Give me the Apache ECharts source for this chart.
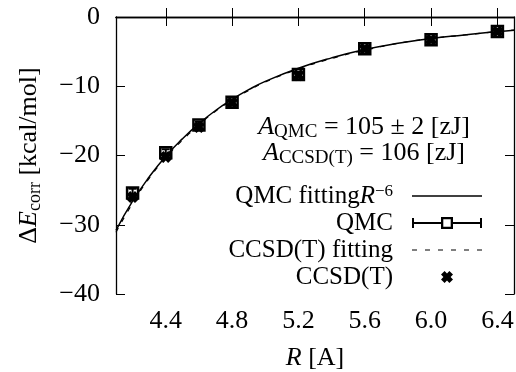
<!DOCTYPE html>
<html><head><meta charset="utf-8">
<script src="https://cdn.jsdelivr.net/npm/echarts@6/dist/echarts.min.js"></script>
<style>html,body{margin:0;padding:0;background:#fff}#c{width:516px;height:372px}</style>
</head><body><div id="c"></div>
<script>
// ---- data ----
const rPoints = [4.2, 4.4, 4.6, 4.8, 5.2, 5.6, 6.0, 6.4];
const qmcEnergy = [-25.4, -19.6, -15.6, -12.3, -8.3, -4.6, -3.3, -2.1];
const qmcError = [0.6, 0.5, 0.5, 0.4, 0.4, 0.3, 0.3, 0.2];
const ccsdEnergy = [-26.0, -20.2, -15.9, -12.4, -8.4, -4.6, -3.3, -2.1];
const rFit = [4.1, 4.2, 4.3, 4.4, 4.5, 4.6, 4.7, 4.8, 4.9, 5.0, 5.2, 5.4, 5.6, 5.8, 6.0, 6.2, 6.4, 6.5];
const qmcFit = [-30.8, -26.6, -23.1, -20.1, -17.6, -15.4, -13.5, -11.9, -10.5, -9.3, -7.4, -5.9, -4.7, -3.8, -3.1, -2.6, -2.1, -1.9];
const ccsdFit = [-31.1, -26.9, -23.3, -20.3, -17.8, -15.6, -13.6, -12.0, -10.6, -9.4, -7.5, -6.0, -4.8, -3.8, -3.1, -2.6, -2.1, -1.9];
const xTicks = [4.4, 4.8, 5.2, 5.6, 6.0, 6.4];
const yTicks = [-40, -30, -20, -10, 0];
const seriesNames = ['QMC fitting', 'QMC', 'CCSD(T) fitting', 'CCSD(T)'];

const FONT = 'Liberation Serif';
const FS = 26;
const chart = echarts.init(document.getElementById('c'));

const zipXY = (xs, ys) => xs.map((x, i) => [x, ys[i]]);
const solidIcon = 'path://M0 0H70V1.4H0Z';
const dashIcon = 'path://M0 0H5V1.2H0Z M13 0H18V1.2H13Z M26 0H31V1.2H26Z M39 0H44V1.2H39Z M52 0H57V1.2H52Z M65 0H70V1.2H65Z';
const qmcIcon = 'path://M0 1H2V11H0Z M0 5H29V7H0Z M29 0H41V2.3H29Z M29 9.7H41V12H29Z M29 0H31.3V12H29Z M38.7 0H41V12H38.7Z M41 5H70V7H41Z M68 1H70V11H68Z';
const crossSym = 'path://M0 3L3 0L5 2L7 0L10 3L8 5L10 7L7 10L5 8L3 10L0 7L2 5Z';

const axisCommon = {
  axisLine: { lineStyle: { color: '#000', width: 1.3 } },
  splitLine: { show: false }
};

chart.setOption({
  animation: false,
  backgroundColor: '#fff',
  grid: { left: 116, right: 2, top: 17, bottom: 78, containLabel: false, outerBoundsMode: 'none' },
  xAxis: [
    Object.assign({
      type: 'value', min: 4.1, max: 6.5, position: 'bottom',
      axisTick: { inside: true, length: 9, customValues: xTicks, lineStyle: { color: '#000', width: 1 } },
      axisLabel: { customValues: xTicks, margin: 14, fontFamily: FONT, fontSize: FS, color: '#000',
        formatter: v => Number(v).toFixed(1) },
      name: '{i|R}{n| [A]}', nameLocation: 'middle', nameGap: 51,
      nameTextStyle: { rich: {
        i: { fontFamily: FONT, fontSize: FS, fontStyle: 'italic', color: '#000' },
        n: { fontFamily: FONT, fontSize: FS, color: '#000' } } }
    }, axisCommon),
    Object.assign({
      type: 'value', min: 4.1, max: 6.5, position: 'top',
      axisTick: { inside: true, length: 9, customValues: xTicks, lineStyle: { color: '#000', width: 1 } },
      axisLabel: { show: false }
    }, axisCommon)
  ],
  yAxis: [
    Object.assign({
      type: 'value', min: yTicks[0], max: yTicks[yTicks.length - 1], interval: 10, position: 'left',
      axisTick: { inside: true, length: 9, lineStyle: { color: '#000', width: 1 } },
      axisLabel: { margin: 16, fontFamily: FONT, fontSize: FS, color: '#000',
        formatter: v => String(v).replace('-', '\u2212') },
      name: '{d|\u0394}{e|E}{s|corr}{n| [kcal/mol]}', nameLocation: 'middle', nameGap: 72, nameRotate: 90,
      nameTextStyle: { rich: {
        d: { fontFamily: FONT, fontSize: FS, color: '#000', lineHeight: 30 },
        e: { fontFamily: FONT, fontSize: FS, fontStyle: 'italic', color: '#000', lineHeight: 30 },
        s: { fontFamily: FONT, fontSize: 18, color: '#000', verticalAlign: 'bottom', lineHeight: 30 },
        n: { fontFamily: FONT, fontSize: FS, color: '#000', lineHeight: 30 } } }
    }, axisCommon),
    Object.assign({
      type: 'value', min: yTicks[0], max: yTicks[yTicks.length - 1], interval: 10, position: 'right',
      axisTick: { inside: true, length: 9, lineStyle: { color: '#000', width: 1 } },
      axisLabel: { show: false }
    }, axisCommon)
  ],
  legend: {
    orient: 'vertical', align: 'right', right: 34, top: 183, padding: 0,
    itemWidth: 70, itemHeight: 12, itemGap: 1, selectedMode: false,
    symbolKeepAspect: true,
    textStyle: { fontFamily: FONT, fontSize: 25, color: '#000', lineHeight: 26, padding: [0, 14, 0, 0],
      rich: {
        n: { fontFamily: FONT, fontSize: 25, color: '#000', lineHeight: 26 },
        i: { fontFamily: FONT, fontSize: 25, fontStyle: 'italic', color: '#000', lineHeight: 26 },
        s: { fontFamily: FONT, fontSize: 17, color: '#000', verticalAlign: 'top', lineHeight: 26 }
      } },
    formatter: name => name === seriesNames[0] ? '{n|QMC fitting}{i|R}{s|\u22126}' : name,
    data: [
      { name: seriesNames[0], icon: solidIcon, itemStyle: { color: '#000', borderWidth: 0 } },
      { name: seriesNames[1], icon: qmcIcon, itemStyle: { color: '#000', borderWidth: 0 } },
      { name: seriesNames[2], icon: dashIcon, itemStyle: { color: '#000', borderWidth: 0 } },
      { name: seriesNames[3], icon: crossSym, itemStyle: { color: '#000', borderWidth: 0 } }
    ]
  },
  graphic: [
    { type: 'text', x: 364, y: 127, style: {
      text: '{a|A}{s|QMC}{n| = 105 \u00b1 2 [zJ]}', align: 'center', verticalAlign: 'middle',
      rich: {
        a: { fontFamily: FONT, fontSize: FS, fontStyle: 'italic', fill: '#000', lineHeight: 30 },
        s: { fontFamily: FONT, fontSize: 19, fill: '#000', verticalAlign: 'bottom', lineHeight: 30 },
        n: { fontFamily: FONT, fontSize: FS, fill: '#000', lineHeight: 30 } } } },
    { type: 'text', x: 364, y: 153, style: {
      text: '{a|A}{s|CCSD(T)}{n| = 106 [zJ]}', align: 'center', verticalAlign: 'middle',
      rich: {
        a: { fontFamily: FONT, fontSize: FS, fontStyle: 'italic', fill: '#000', lineHeight: 30 },
        s: { fontFamily: FONT, fontSize: 19, fill: '#000', verticalAlign: 'bottom', lineHeight: 30 },
        n: { fontFamily: FONT, fontSize: FS, fill: '#000', lineHeight: 30 } } } }
  ],
  series: [
    { name: seriesNames[0], type: 'line', data: zipXY(rFit, qmcFit), smooth: true, symbol: 'none',
      lineStyle: { color: '#000', width: 1.5 }, itemStyle: { color: '#000' }, clip: true, z: 2 },
    { name: seriesNames[2], type: 'line', data: zipXY(rFit, ccsdFit), smooth: true, symbol: 'none',
      lineStyle: { color: '#000', width: 1.2, type: [5, 7] }, itemStyle: { color: '#000' }, clip: true, z: 2 },
    { name: seriesNames[1], type: 'custom', z: 3,
      data: rPoints.map((r, i) => [r, qmcEnergy[i] - qmcError[i], qmcEnergy[i] + qmcError[i]]),
      renderItem: (params, api) => {
        const p1 = api.coord([api.value(0), api.value(1)]);
        const p2 = api.coord([api.value(0), api.value(2)]);
        const st = { stroke: '#000', lineWidth: 2 };
        return { type: 'group', children: [
          { type: 'line', shape: { x1: p1[0], y1: p1[1], x2: p2[0], y2: p2[1] }, style: st },
          { type: 'line', shape: { x1: p1[0] - 4, y1: p1[1], x2: p1[0] + 4, y2: p1[1] }, style: st },
          { type: 'line', shape: { x1: p2[0] - 4, y1: p2[1], x2: p2[0] + 4, y2: p2[1] }, style: st }
        ] };
      },
      itemStyle: { color: '#000' } },
    { name: seriesNames[1], type: 'scatter', data: zipXY(rPoints, qmcEnergy), symbol: 'rect', symbolSize: 11,
      itemStyle: { color: 'rgba(0,0,0,0)', borderColor: '#000', borderWidth: 2.5, opacity: 1 }, z: 4 },
    { name: seriesNames[3], type: 'scatter', data: zipXY(rPoints, ccsdEnergy), symbol: crossSym, symbolSize: 12,
      itemStyle: { color: '#000', opacity: 1 }, z: 5 }
  ]
});
</script>
</body></html>
